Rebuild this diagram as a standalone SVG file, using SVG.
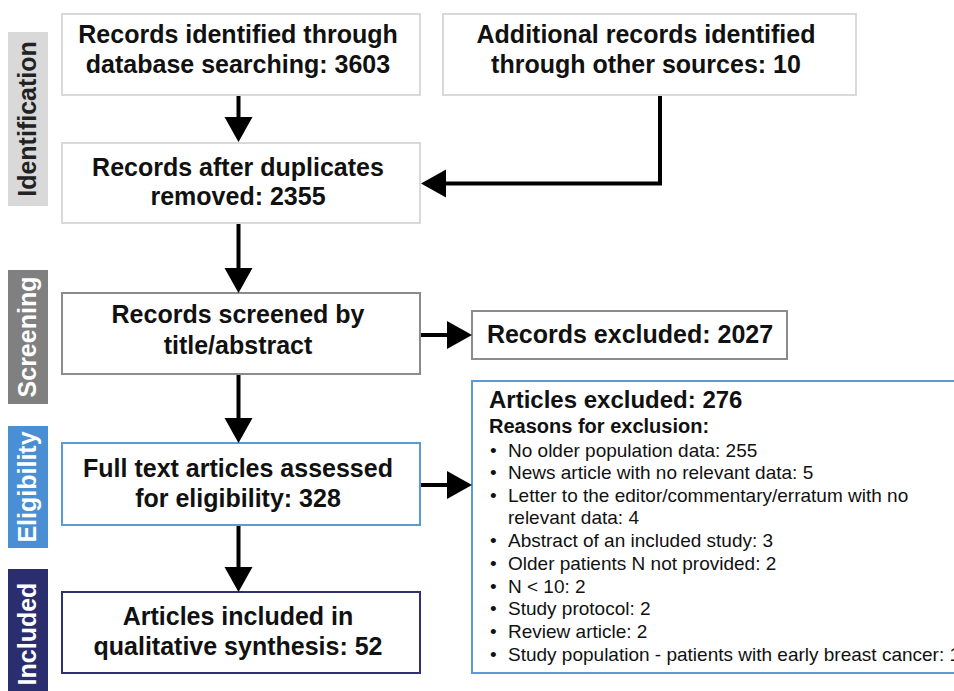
<svg xmlns="http://www.w3.org/2000/svg" width="954" height="691" viewBox="0 0 954 691">
<defs>
<style>
.box{fill:#fff;stroke-width:2}
.lg{stroke:#d9d9d9}
.gr{stroke:#8c8c8c}
.bl{stroke:#5b9bd5}
.nv{stroke:#2e3172}
.t{font-family:"Liberation Sans",Arial,sans-serif;font-weight:bold;font-size:25px;fill:#111;text-anchor:middle}
.side{font-family:"Liberation Sans",Arial,sans-serif;font-weight:bold;font-size:25px;text-anchor:middle}
.li{font-family:"Liberation Sans",Arial,sans-serif;font-size:19px;fill:#111}
.conn{fill:none;stroke:#000;stroke-width:4}
</style>
<marker id="ah" markerUnits="userSpaceOnUse" markerWidth="26" markerHeight="28" refX="0" refY="14" orient="auto" overflow="visible">
<path d="M0,0 L25,14 L0,28 Z" fill="#000"/>
</marker>
</defs>
<rect width="954" height="691" fill="#fff"/>

<g id="phase-identification">
<rect x="8" y="32" width="40" height="174" fill="#d9d9d9"/>
<text class="side" fill="#222" transform="translate(36,119) rotate(-90)">Identification</text>
</g>
<g id="phase-screening">
<rect x="8" y="270" width="40" height="134" fill="#808080"/>
<text class="side" fill="#fff" transform="translate(36,337) rotate(-90)">Screening</text>
</g>
<g id="phase-eligibility">
<rect x="8" y="426" width="40" height="122" fill="#4a8fd3"/>
<text class="side" fill="#fff" transform="translate(36,487) rotate(-90)">Eligibility</text>
</g>
<g id="phase-included">
<rect x="8" y="569" width="40" height="130" fill="#2b2e6e"/>
<text class="side" fill="#fff" transform="translate(36,634) rotate(-90)">Included</text>
</g>

<g id="n-database">
<rect class="box lg" x="62" y="14" width="358" height="81"/>
<text class="t" x="238" y="43">Records identified through</text>
<text class="t" x="238" y="73">database searching: 3603</text>
</g>
<g id="n-other">
<rect class="box lg" x="443" y="14" width="413" height="81"/>
<text class="t" x="646" y="43">Additional records identified</text>
<text class="t" x="646" y="73">through other sources: 10</text>
</g>
<g id="n-duplicates">
<rect class="box lg" x="62" y="143" width="358" height="80"/>
<text class="t" x="238" y="176">Records after duplicates</text>
<text class="t" x="238" y="205">removed: 2355</text>
</g>
<g id="n-screened">
<rect class="box gr" x="62" y="293" width="358" height="81"/>
<text class="t" x="238" y="323">Records screened by</text>
<text class="t" x="238" y="354">title/abstract</text>
</g>
<g id="n-records-excluded">
<rect class="box gr" x="472" y="311" width="315" height="48"/>
<text class="t" x="630" y="343">Records excluded: 2027</text>
</g>
<g id="n-fulltext">
<rect class="box bl" x="62" y="443" width="358" height="82"/>
<text class="t" x="238" y="477">Full text articles assessed</text>
<text class="t" x="238" y="507">for eligibility: 328</text>
</g>
<g id="n-articles-excluded">
<rect class="box bl" x="472" y="381" width="500" height="292"/>
<text x="489" y="408" font-family="Liberation Sans, Arial, sans-serif" font-weight="bold" font-size="24" fill="#111">Articles excluded: 276</text>
<text x="489" y="433" font-family="Liberation Sans, Arial, sans-serif" font-weight="bold" font-size="20" fill="#111">Reasons for exclusion:</text>
<g class="li">
<text x="490" y="457">•</text><text x="508" y="457">No older population data: 255</text>
<text x="490" y="479">•</text><text x="508" y="479">News article with no relevant data: 5</text>
<text x="490" y="502">•</text><text x="508" y="502">Letter to the editor/commentary/erratum with no</text>
<text x="508" y="524">relevant data: 4</text>
<text x="490" y="547">•</text><text x="508" y="547">Abstract of an included study: 3</text>
<text x="490" y="570">•</text><text x="508" y="570">Older patients N not provided: 2</text>
<text x="490" y="593">•</text><text x="508" y="593">N &lt; 10: 2</text>
<text x="490" y="615">•</text><text x="508" y="615">Study protocol: 2</text>
<text x="490" y="638">•</text><text x="508" y="638">Review article: 2</text>
<text x="490" y="661">•</text><text x="508" y="661">Study population - patients with early breast cancer: 1</text>
</g>
</g>
<g id="n-included">
<rect class="box nv" x="62" y="592" width="358" height="81"/>
<text class="t" x="238" y="625">Articles included in</text>
<text class="t" x="238" y="655">qualitative synthesis: 52</text>
</g>

<g id="connectors">
<path class="conn" d="M238.5,96 V117" marker-end="url(#ah)"/>
<path class="conn" d="M660,96 V183.5 H446" marker-end="url(#ah)"/>
<path class="conn" d="M238.5,224 V268" marker-end="url(#ah)"/>
<path class="conn" d="M238.5,375 V418" marker-end="url(#ah)"/>
<path class="conn" d="M238.5,526 V567" marker-end="url(#ah)"/>
<path class="conn" d="M421,335 H447" marker-end="url(#ah)"/>
<path class="conn" d="M421,485 H447" marker-end="url(#ah)"/>
</g>
</svg>
